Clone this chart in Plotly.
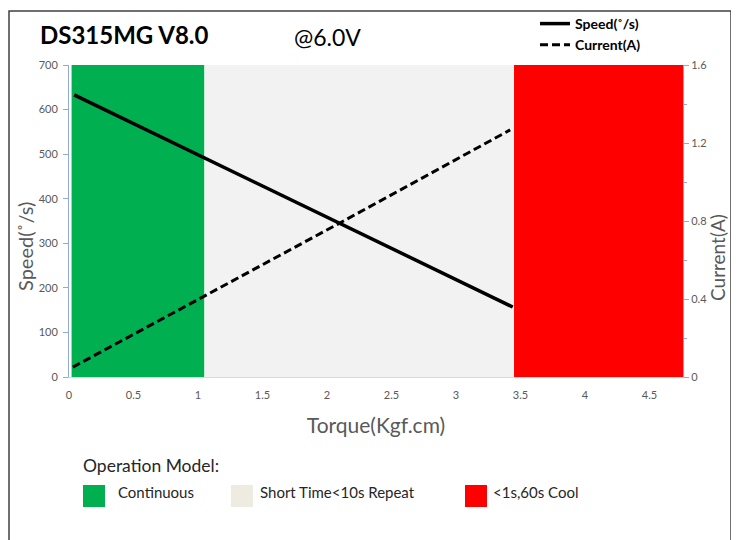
import plotly.graph_objects as go

# ---- data ----
torque_speed = [0.04, 2.10, 3.44]
speed = [633, 345, 157]
torque_current = [0.03, 2.10, 3.42]
current = [0.051, 0.79, 1.267]

band_names = ["Continuous", "Short Time<10s Repeat", "<1s,60s Cool"]
band_start = [0.02, 1.05, 3.45]
band_end = [1.05, 3.45, 4.76]
band_colors = ["#00B050", "#F2F2F2", "#FF0000"]
legend_square_colors = ["#00B050", "#EEECE1", "#FF0000"]

x_ticks = [0, 0.5, 1, 1.5, 2, 2.5, 3, 3.5, 4, 4.5]
x_tick_labels = ["0", "0.5", "1", "1.5", "2", "2.5", "3", "3.5", "4", "4.5"]
speed_ticks = [0, 100, 200, 300, 400, 500, 600, 700]
current_ticks = [0, 0.4, 0.8, 1.2, 1.6]
current_tick_labels = ["0", "0.4", "0.8", "1.2", "1.6"]

FONT = "Lato"
GRAY = "#595959"
AXIS_BLUE = "#8FAADC"

W, H = 739, 540
OFF = 8  # page offset of the figure inside the window
# target screen positions of the plot area
SX0, SX1, SY0, SY1 = 69, 683, 65, 377
ML = SX0 - OFF
MT = SY0 - OFF
PW = SX1 - SX0
PH = SY1 - SY0
MR = W - ML - PW
MB = H - MT - PH

def px2paper_x(px):
    return (px - SX0) / PW

def px2paper_y(py):
    return (SY1 - py) / PH

fig = go.Figure()

fig.add_trace(go.Scatter(
    x=torque_speed, y=speed, mode="lines", name="<b>Speed(˚/s)</b>",
    line=dict(color="black", width=3.5), yaxis="y"))
fig.add_trace(go.Scatter(
    x=torque_current, y=current, mode="lines", name="<b>Current(A)</b>",
    line=dict(color="black", width=3, dash="8px,4px"), yaxis="y2"))

shapes = []
for s, e, c in zip(band_start, band_end, band_colors):
    shapes.append(dict(type="rect", xref="x", yref="y", x0=s, x1=e, y0=0, y1=700,
                       fillcolor=c, line=dict(width=0), layer="below"))

# outer border
shapes.append(dict(type="rect", xref="paper", yref="paper",
                   x0=px2paper_x(9), x1=px2paper_x(731),
                   y0=px2paper_y(560), y1=px2paper_y(11),
                   line=dict(color="#404040", width=1.5), fillcolor="rgba(0,0,0,0)"))

annotations = [
    dict(text="<b>DS315MG V8.0</b>", xref="paper", yref="paper",
         x=px2paper_x(38), y=px2paper_y(35), xanchor="left", yanchor="middle",
         showarrow=False, font=dict(family=FONT, size=24, color="black")),
    dict(text="@6.0V", xref="paper", yref="paper",
         x=px2paper_x(292), y=px2paper_y(37), xanchor="left", yanchor="middle",
         showarrow=False, font=dict(family=FONT, size=23, color="black")),
    dict(text="Operation Model:", xref="paper", yref="paper",
         x=px2paper_x(81), y=px2paper_y(466), xanchor="left", yanchor="middle",
         showarrow=False, font=dict(family=FONT, size=17.5, color="#262626")),
    dict(text="Speed(˚/s)", xref="paper", yref="paper", textangle=-90,
         x=px2paper_x(25), y=px2paper_y(247), xanchor="center", yanchor="middle",
         showarrow=False, font=dict(family=FONT, size=20, color=GRAY)),
    dict(text="Current(A)", xref="paper", yref="paper", textangle=-90,
         x=px2paper_x(717), y=px2paper_y(258), xanchor="center", yanchor="middle",
         showarrow=False, font=dict(family=FONT, size=19, color=GRAY)),
]

sq_left = [83, 231, 465]
txt_left = [116, 258, 491]
for name, col, sx, tx in zip(band_names, legend_square_colors, sq_left, txt_left):
    shapes.append(dict(type="rect", xref="paper", yref="paper",
                       x0=px2paper_x(sx), x1=px2paper_x(sx + 22),
                       y0=px2paper_y(507), y1=px2paper_y(485),
                       fillcolor=col, line=dict(width=0)))
    annotations.append(dict(text=name, xref="paper", yref="paper",
                            x=px2paper_x(tx), y=px2paper_y(492),
                            xanchor="left", yanchor="middle", showarrow=False,
                            font=dict(family=FONT, size=15, color="#262626")))

fig.update_layout(
    width=W, height=H,
    margin=dict(l=ML, r=MR, t=MT, b=MB, autoexpand=False),
    paper_bgcolor="white", plot_bgcolor="white",
    font=dict(family=FONT, color=GRAY),
    shapes=shapes, annotations=annotations,
    showlegend=True,
    legend=dict(xref="container", yref="container",
                x=(535 - OFF) / W, y=1.0, xanchor="left", yanchor="top",
                bgcolor="rgba(0,0,0,0)", font=dict(family=FONT, size=14, color="black"),
                tracegroupgap=0, itemwidth=30),
    xaxis=dict(range=[0, 4.76], tickvals=x_ticks, ticktext=x_tick_labels,
               showgrid=False, zeroline=False, showline=True, linecolor="#D9D9D9",
               ticks="", ticklabelstandoff=8, tickfont=dict(size=11, color=GRAY),
               title=dict(text="Torque(Kgf.cm)", font=dict(size=21, color=GRAY), standoff=18)),
    yaxis=dict(range=[0, 700], tickvals=speed_ticks, showgrid=False, zeroline=False,
               showline=True, linecolor=AXIS_BLUE, ticks="outside", ticklen=5,
               ticklabelstandoff=3,
               tickcolor=AXIS_BLUE, tickfont=dict(size=11, color=GRAY)),
    yaxis2=dict(range=[0, 1.6], tickvals=current_ticks, ticktext=current_tick_labels,
                overlaying="y", side="right", showgrid=False, zeroline=False,
                showline=True, linecolor=AXIS_BLUE, ticks="outside", ticklen=5,
                tickcolor=AXIS_BLUE, tickfont=dict(size=11, color=GRAY),
                minor=dict(ticks="outside", ticklen=3, tickcolor=AXIS_BLUE, dtick=0.2)),
)

fig.write_html("out.html")
